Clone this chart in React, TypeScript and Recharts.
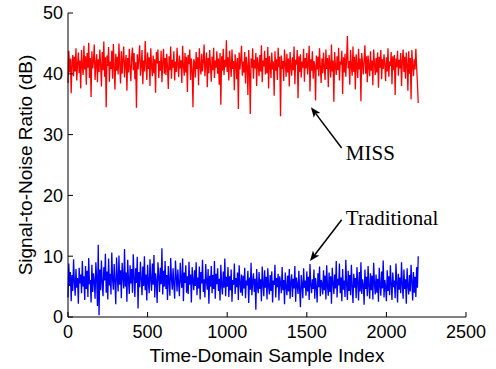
import React from "react";
import {
    LineChart,
    Line,
    XAxis,
    YAxis,
    ReferenceLine,
    ReferenceDot,
} from "recharts";

// sampled every STEP samples (0..2200)
const STEP = 5;

const missSnr = [
    38.5, 43.8, 40.2, 42.5, 36.8, 41.9, 43.1, 39.6, 42.8, 40.4, 44.2, 38.9, 41.7, 43.5, 40.1, 42.2, 37.6, 43.9, 41.2, 39.8,
    44.6, 40.7, 42.9, 38.2, 43.4, 41.0, 45.1, 39.3, 42.6, 36.2, 43.7, 40.9, 42.1, 44.8, 39.0, 41.6, 43.2, 38.6, 42.4, 40.3,
    44.0, 41.4, 37.9, 43.6, 40.6, 45.3, 39.5, 42.7, 34.5, 43.0, 41.3, 44.4, 38.7, 42.0, 40.8, 43.8, 39.2, 44.9, 41.1, 37.4,
    43.3, 40.5, 42.8, 39.9, 45.0, 41.5, 38.4, 43.7, 40.0, 42.3, 44.5, 39.4, 41.8, 43.1, 37.2, 42.6, 40.2, 44.1, 41.0, 38.8,
    42.9, 44.3, 40.6, 43.4, 39.1, 41.9, 34.4, 43.2, 40.7, 42.5, 44.7, 39.7, 41.4, 43.9, 38.3, 42.2, 40.4, 45.4, 41.6, 39.0,
    43.5, 40.8, 42.7, 38.0, 44.2, 41.2, 39.6, 43.0, 40.1, 42.4, 36.9, 43.6, 41.7, 44.0, 39.3, 42.1, 40.5, 43.8, 38.6, 41.8,
    44.1, 40.0, 42.6, 39.8, 43.3, 41.1, 37.5, 42.9, 40.6, 44.5, 39.2, 42.3, 41.0, 43.7, 38.9, 42.0, 40.3, 44.3, 41.5, 39.5,
    43.0, 40.9, 42.2, 38.5, 44.6, 41.3, 39.7, 43.4, 40.2, 42.8, 37.0, 43.1, 41.6, 44.0, 39.0, 42.5, 40.7, 34.5, 42.4, 41.9,
    39.4, 43.6, 40.8, 42.7, 38.1, 44.2, 41.2, 39.9, 43.3, 40.4, 42.0, 44.8, 39.6, 41.7, 43.5, 37.8, 42.6, 40.1, 43.9, 41.4,
    38.7, 42.8, 40.6, 44.3, 39.3, 42.2, 41.0, 43.7, 40.0, 42.5, 38.2, 43.4, 34.9, 42.9, 40.5, 44.1, 39.8, 42.3, 41.1, 45.5,
    40.3, 42.7, 38.9, 43.8, 41.5, 39.5, 44.0, 40.8, 42.1, 37.3, 43.2, 41.8, 39.1, 42.6, 34.2, 43.5, 40.7, 42.4, 44.6, 39.7,
    42.0, 40.2, 43.6, 38.4, 42.8, 41.3, 36.5, 43.9, 40.6, 33.4, 42.5, 41.0, 44.2, 39.2, 42.3, 40.9, 43.4, 38.0, 42.7, 41.6,
    39.6, 43.1, 40.4, 44.7, 38.6, 42.2, 41.2, 43.8, 39.9, 42.6, 40.1, 44.4, 37.6, 42.9, 41.4, 39.3, 43.5, 40.7, 42.0, 36.4,
    43.7, 40.5, 42.4, 39.0, 44.3, 41.1, 42.8, 33.0, 43.0, 40.8, 42.1, 38.8, 44.0, 41.7, 39.5, 43.3, 40.2, 42.5, 37.9, 43.6,
    41.3, 39.7, 42.7, 40.6, 44.5, 38.3, 42.3, 41.5, 43.9, 36.0, 42.9, 40.3, 43.2, 39.4, 42.0, 41.0, 44.1, 38.7, 42.6, 40.9,
    43.4, 39.9, 41.8, 44.6, 37.1, 42.4, 40.5, 43.7, 39.2, 42.1, 41.4, 35.6, 43.0, 40.7, 42.8, 39.6, 44.2, 41.2, 38.5, 42.5,
    40.1, 43.5, 41.0, 39.0, 44.0, 40.8, 42.6, 37.8, 43.1, 41.6, 39.4, 44.8, 40.4, 42.2, 35.4, 43.6, 41.3, 39.8, 42.9, 40.6,
    44.3, 38.9, 42.0, 41.5, 43.8, 36.7, 42.7, 40.2, 43.3, 39.5, 42.4, 46.2, 40.9, 42.1, 38.2, 43.9, 41.1, 39.7, 44.5, 40.3,
    42.8, 37.4, 43.2, 41.4, 39.3, 44.1, 40.7, 42.5, 35.5, 43.4, 41.8, 39.9, 42.3, 44.7, 40.0, 42.9, 38.6, 43.0, 41.2, 39.6,
    43.7, 40.5, 42.2, 38.1, 44.0, 41.7, 39.8, 42.6, 40.2, 43.5, 37.7, 42.8, 41.0, 43.9, 39.1, 42.4, 40.8, 43.2, 41.5, 38.8,
    42.7, 40.4, 44.2, 39.5, 42.0, 41.3, 43.6, 38.3, 42.9, 40.6, 43.1, 36.5, 42.5, 41.1, 43.8, 39.7, 42.3, 40.9, 43.4, 38.0,
    42.1, 44.0, 40.3, 42.8, 39.2, 43.5, 41.6, 37.2, 43.7, 40.0, 42.6, 35.8, 43.9, 41.4, 39.6, 42.4, 40.7, 44.1, 41.0, 38.4,
    35.2,
];

const traditionalSnr = [
    3.2, 8.8, 5.1, 7.4, 2.6, 6.9, 4.3, 9.5, 5.8, 3.5, 7.9, 4.8, 6.4, 2.2, 8.1, 5.5, 7.0, 3.9, 9.2, 5.0,
    6.7, 2.8, 8.4, 4.6, 7.6, 3.3, 9.7, 5.4, 6.1, 2.4, 8.6, 4.1, 7.2, 5.9, 3.0, 9.0, 6.3, 1.8, 11.9, 0.3,
    7.8, 4.4, 9.3, 5.6, 3.4, 8.2, 6.0, 10.4, 4.0, 7.5, 2.9, 9.6, 5.2, 7.1, 3.7, 10.6, 6.2, 4.5, 8.7, 5.7,
    2.1, 9.8, 6.5, 4.2, 10.1, 5.3, 7.7, 3.1, 8.9, 6.6, 4.7, 11.2, 5.0, 7.3, 2.5, 9.4, 6.0, 3.8, 8.5, 5.5,
    7.9, 4.0, 10.3, 6.4, 3.3, 8.0, 5.6, 9.9, 1.4, 7.4, 4.9, 9.1, 6.2, 3.6, 8.3, 5.1, 10.0, 4.4, 7.0, 2.7,
    8.6, 5.7, 3.9, 9.5, 6.1, 4.3, 8.8, 5.3, 10.2, 3.2, 7.2, 5.9, 2.3, 9.0, 6.8, 4.1, 8.1, 5.4, 11.3, 3.7,
    7.6, 5.0, 9.2, 4.6, 6.9, 2.8, 8.4, 5.8, 3.5, 9.7, 6.3, 4.5, 8.0, 5.2, 3.0, 9.3, 6.6, 4.2, 7.8, 5.5,
    3.4, 8.9, 6.0, 4.8, 9.6, 2.6, 7.3, 5.6, 8.5, 4.0, 6.7, 3.8, 9.1, 5.3, 7.0, 2.4, 8.2, 5.9, 4.4, 7.7,
    5.1, 9.0, 3.6, 6.5, 4.7, 8.3, 2.9, 7.4, 5.5, 9.4, 4.1, 6.2, 3.2, 8.7, 5.8, 4.5, 7.9, 2.2, 6.8, 5.0,
    8.4, 3.9, 6.9, 4.6, 9.2, 3.0, 7.1, 5.4, 8.0, 4.3, 6.3, 2.7, 8.6, 5.2, 3.7, 7.5, 4.8, 9.6, 3.4, 6.6,
    5.0, 8.2, 3.3, 6.7, 4.4, 7.8, 2.5, 6.1, 5.3, 8.8, 3.8, 6.4, 4.9, 7.3, 2.8, 8.5, 5.6, 4.0, 7.0, 3.5,
    6.8, 4.7, 8.1, 3.1, 6.0, 5.2, 7.6, 2.3, 6.5, 4.5, 8.9, 3.6, 5.8, 7.2, 4.1, 6.3, 1.2, 7.9, 5.0, 3.9,
    7.4, 4.6, 6.2, 2.6, 8.3, 5.5, 3.4, 7.7, 4.8, 6.6, 2.9, 8.0, 5.1, 3.7, 6.9, 4.3, 7.5, 2.4, 6.0, 5.3,
    8.6, 3.2, 6.4, 4.9, 7.1, 2.7, 6.7, 5.6, 3.9, 8.2, 4.4, 6.1, 2.1, 7.3, 5.0, 3.6, 6.8, 4.2, 7.9, 3.0,
    5.7, 7.0, 3.3, 6.3, 4.7, 8.4, 2.5, 6.5, 5.2, 3.8, 7.6, 4.5, 1.6, 6.9, 5.4, 3.1, 8.0, 4.8, 6.0, 3.5,
    7.5, 4.2, 6.6, 2.8, 8.7, 5.3, 3.9, 6.2, 4.6, 7.8, 3.0, 6.4, 5.1, 2.4, 7.2, 4.9, 8.3, 3.4, 6.1, 5.5,
    3.7, 7.7, 4.4, 6.8, 2.9, 8.5, 5.0, 3.5, 7.3, 4.1, 6.7, 2.2, 8.1, 5.6, 3.8, 7.0, 4.7, 9.2, 3.2, 6.3,
    5.2, 8.8, 3.9, 6.5, 2.6, 7.9, 4.5, 6.0, 3.3, 9.4, 5.4, 2.8, 7.6, 4.3, 6.9, 3.6, 8.6, 5.0, 2.3, 7.1,
    4.8, 6.4, 3.1, 8.2, 5.7, 2.7, 7.4, 4.2, 9.0, 3.8, 6.2, 5.3, 2.0, 7.8, 4.6, 6.6, 3.4, 8.4, 5.1, 3.0,
    7.2, 4.4, 6.8, 2.9, 8.9, 5.5, 3.7, 7.0, 4.0, 6.3, 2.5, 8.1, 5.2, 3.5, 7.5, 4.7, 9.3, 3.2, 6.1, 5.0,
    2.6, 7.7, 4.3, 6.7, 3.6, 8.5, 5.4, 2.8, 7.3, 4.9, 6.0, 3.1, 8.8, 5.7, 2.4, 7.1, 4.5, 6.5, 3.9, 9.0,
    5.3, 3.0, 7.8, 4.6, 6.2, 2.2, 8.0, 5.1, 3.7, 6.9, 4.2, 8.6, 5.8, 2.7, 7.4, 4.0, 6.6, 3.3, 8.2, 4.8,
    10.0,
];

const xTicks = [0, 500, 1000, 1500, 2000, 2500];
const yTicks = [0, 10, 20, 30, 40, 50];

const data = missSnr.map((v, i) => ({
    sample: i * STEP,
    miss: v,
    traditional: traditionalSnr[i],
}));

const sansFont = "'Liberation Sans', Arial, Helvetica, sans-serif";
const serifFont = "'Liberation Serif', 'Times New Roman', serif";

const tickStyle = { fontSize: 18, fill: "#000", fontFamily: sansFont };

// line from tail (x2,y2) to tip (x1,y1) with a filled arrowhead at the tip
const Arrow = (props: any) => {
    const { x1, y1, x2, y2 } = props;
    const ang = Math.atan2(y2 - y1, x2 - x1);
    const len = 11;
    const half = 0.38;
    const ax = x1 + len * Math.cos(ang - half);
    const ay = y1 + len * Math.sin(ang - half);
    const bx = x1 + len * Math.cos(ang + half);
    const by = y1 + len * Math.sin(ang + half);
    const mx = x1 + len * 0.7 * Math.cos(ang);
    const my = y1 + len * 0.7 * Math.sin(ang);
    return (
        <g>
            <line x1={mx} y1={my} x2={x2} y2={y2} stroke="#000" strokeWidth={1.5} />
            <polygon points={`${x1},${y1} ${ax},${ay} ${mx},${my} ${bx},${by}`} fill="#000" />
        </g>
    );
};

const XLabel = (props: any) => {
    const vb = props.viewBox || {};
    return (
        <text
            x={vb.x + vb.width / 2}
            y={362}
            textAnchor="middle"
            fontSize={19}
            fontFamily={sansFont}
            fill="#000"
        >
            Time-Domain Sample Index
        </text>
    );
};

const YLabel = (props: any) => {
    const vb = props.viewBox || {};
    const cy = vb.y + vb.height / 2;
    return (
        <text
            x={32}
            y={cy}
            transform={`rotate(-90, 32, ${cy})`}
            textAnchor="middle"
            fontSize={19}
            fontFamily={sansFont}
            fill="#000"
        >
            Signal-to-Noise Ratio (dB)
        </text>
    );
};

export default function App() {
    return (
        <div style={{ position: "absolute", left: 0, top: 0, background: "#fff" }}>
            <LineChart
                width={496}
                height={369}
                data={data}
                margin={{ top: 13, right: 30, left: 8, bottom: 22 }}
            >
                <XAxis
                    dataKey="sample"
                    type="number"
                    domain={[0, 2500]}
                    ticks={xTicks}
                    height={30}
                    stroke="#000"
                    tickSize={-5}
                    tickMargin={13}
                    tick={tickStyle}
                    interval={0}
                    label={XLabel}
                />
                <XAxis
                    xAxisId="top"
                    orientation="top"
                    dataKey="sample"
                    type="number"
                    domain={[0, 2500]}
                    ticks={xTicks}
                    height={0}
                    stroke="#000"
                    tickSize={-5}
                    tick={false}
                />
                <YAxis
                    type="number"
                    domain={[0, 50]}
                    ticks={yTicks}
                    width={60}
                    stroke="#000"
                    tickSize={-5}
                    tickMargin={10}
                    tick={tickStyle}
                    interval={0}
                    label={YLabel}
                />
                <YAxis
                    yAxisId="right"
                    orientation="right"
                    type="number"
                    domain={[0, 50]}
                    ticks={yTicks}
                    width={0}
                    stroke="#000"
                    tickSize={-5}
                    tick={false}
                />
                <Line
                    dataKey="miss"
                    type="linear"
                    stroke="#ff0000"
                    strokeWidth={1.3}
                    dot={false}
                    isAnimationActive={false}
                />
                <Line
                    dataKey="traditional"
                    type="linear"
                    stroke="#0000ff"
                    strokeWidth={1.3}
                    dot={false}
                    isAnimationActive={false}
                />
                <ReferenceLine
                    segment={[{ x: 1526, y: 34.5 }, { x: 1719, y: 27.8 }]}
                    shape={Arrow}
                    ifOverflow="visible"
                />
                <ReferenceLine
                    segment={[{ x: 1520, y: 9.2 }, { x: 1719, y: 16.0 }]}
                    shape={Arrow}
                    ifOverflow="visible"
                />
                <ReferenceDot
                    x={1745}
                    y={27.1}
                    r={0}
                    fill="none"
                    stroke="none"
                    label={{
                        value: "MISS",
                        position: "right",
                        offset: 0,
                        fontSize: 21,
                        fontFamily: serifFont,
                        fill: "#000",
                    }}
                />
                <ReferenceDot
                    x={1745}
                    y={16.4}
                    r={0}
                    fill="none"
                    stroke="none"
                    label={{
                        value: "Traditional",
                        position: "right",
                        offset: 0,
                        fontSize: 21,
                        fontFamily: serifFont,
                        fill: "#000",
                    }}
                />
            </LineChart>
        </div>
    );
}
